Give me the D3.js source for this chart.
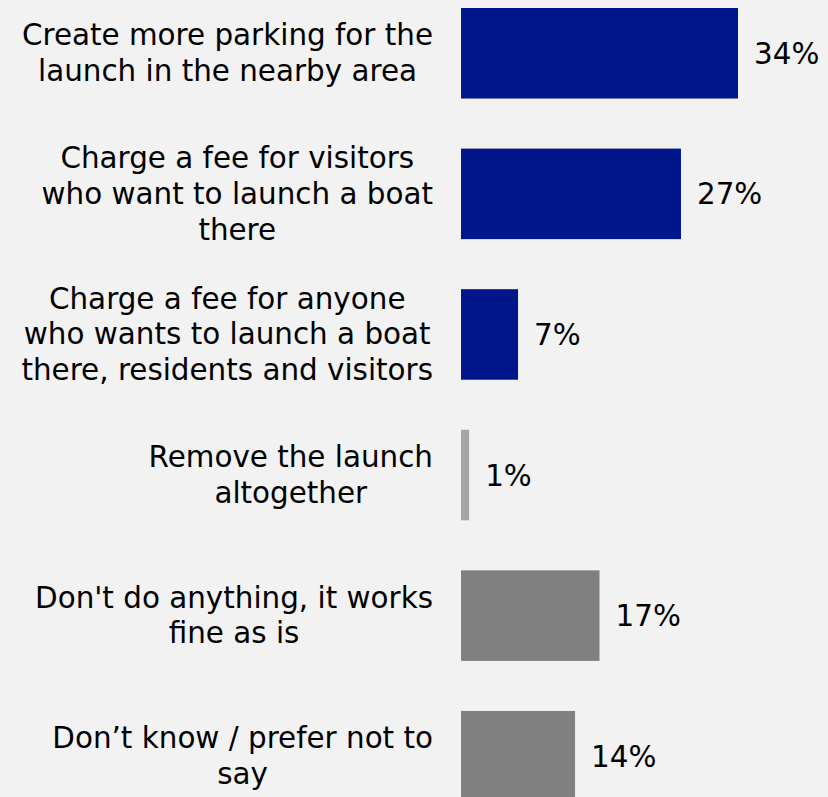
<!DOCTYPE html>
<html><head><meta charset="utf-8">
<script src="https://cdn.jsdelivr.net/npm/d3@7"></script>
<style>html,body{margin:0;padding:0;background:#f2f2f2;overflow:hidden}</style>
</head><body>
<svg id="c" width="828" height="797"></svg>
<script>
const categories = [
  ["Create more parking for the", "launch in the nearby area"],
  ["Charge a fee for visitors", "who want to launch a boat", "there"],
  ["Charge a fee for anyone", "who wants to launch a boat", "there, residents and visitors"],
  ["Remove the launch", "altogether"],
  ["Don't do anything, it works", "fine as is"],
  ["Don\u2019t know / prefer not to", "say"]
];
const values = [34, 27, 7, 1, 17, 14];
const colors = ["#00168a", "#00168a", "#00168a", "#a6a6a6", "#808080", "#808080"];

const svg = d3.select("#c");
svg.append("rect").attr("width", 828).attr("height", 797).attr("fill", "#f2f2f2");
const font = "DejaVu Sans, Verdana, sans-serif";
const fs = 29.4;

const idx = d3.range(values.length);
const y = d3.scaleBand().domain(idx).range([8, 8 + 6 * 140.6 - 50.1]).paddingInner(0.356).paddingOuter(0);
const x = d3.scaleLinear().domain([0, 34]).range([461, 738]);

svg.selectAll("rect.bar").data(idx).join("rect").attr("class", "bar")
  .attr("x", x(0)).attr("y", i => y(i))
  .attr("width", i => x(values[i]) - x(0)).attr("height", y.bandwidth())
  .attr("fill", i => colors[i]);

svg.selectAll("text.val").data(idx).join("text").attr("class", "val")
  .attr("x", i => x(values[i]) + 16).attr("y", i => y(i) + y.bandwidth() / 2)
  .attr("dy", "0.36em").attr("font-family", font).attr("font-size", fs).attr("fill", "#000")
  .text(i => values[i] + "%");

const lh = 35.7;
idx.forEach(i => {
  const g = svg.append("g");
  const lines = categories[i];
  const t = g.append("text").attr("font-family", font).attr("font-size", fs).attr("fill", "#000").attr("text-anchor", "middle");
  const cy = y(i) + y.bandwidth() / 2;
  lines.forEach((l, k) => {
    t.append("tspan").attr("x", 0).attr("y", cy + (k - (lines.length - 1) / 2) * lh).attr("dy", "0.34em").text(l);
  });
  let maxW = 0;
  t.selectAll("tspan").each(function () { maxW = Math.max(maxW, this.getComputedTextLength()); });
  t.selectAll("tspan").attr("x", 433 - maxW / 2);
});
</script>
</body></html>
